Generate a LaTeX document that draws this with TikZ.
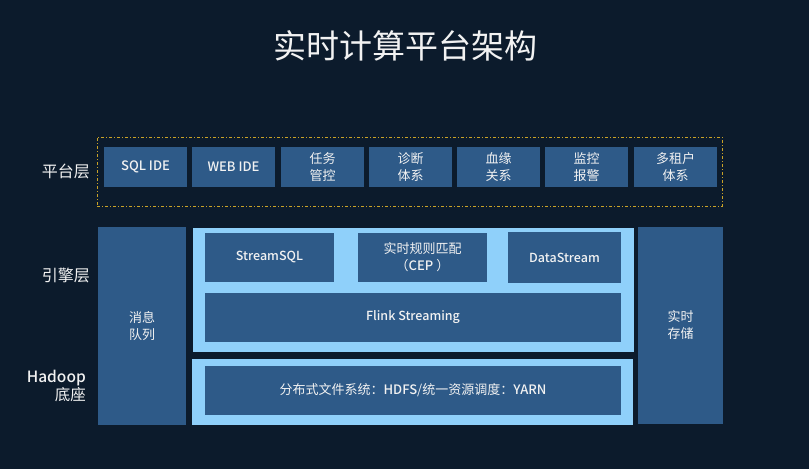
\documentclass[tikz,border=0pt]{standalone}
\usepackage{fontspec}
\setmainfont{Noto Sans CJK SC}[BoldFont={Noto Sans CJK SC Medium}]
\newfontfamily\cjk{Noto Sans CJK SC}
\definecolor{bgc}{HTML}{0C1B2C}
\definecolor{boxc}{HTML}{2E5A88}
\definecolor{lightc}{HTML}{8FD0FA}
\definecolor{goldc}{HTML}{C9A227}
\definecolor{txtc}{HTML}{F2F2F2}
\begin{document}
\begin{tikzpicture}[x=1pt,y=-1pt,
  box/.style={fill=boxc, draw=none, text=txtc, align=center, inner sep=0pt,
    font=\fontsize{13}{17}\selectfont},
  lat/.style={font=\fontsize{12.5}{17}\selectfont\bfseries},
  panel/.style={fill=lightc, draw=none, inner sep=0pt},
  lbl/.style={text=txtc, align=right, anchor=east, inner sep=0pt,
    font=\fontsize{16}{18}\selectfont}
]
\useasboundingbox[fill=bgc] (0,0) rectangle (809,469);
\node[text=txtc, font=\fontsize{33}{36}\selectfont] (title) at (405.5,46) {实时计算平台架构};

% platform layer
\node[draw=goldc, line width=0.9pt, dash pattern=on 3pt off 2pt on 1pt off 2pt,
  minimum width=625pt, minimum height=69pt, inner sep=0pt] (plat) at (409.5,171.5) {};
\node[lbl] (lplat) at (90,171) {平台层};
\foreach \n/\cx/\t in {sql/145.5/{\bfseries SQL IDE}, web/233.5/{\bfseries WEB IDE},
  rw/322.5/{任务\\管控}, zd/410.5/{诊断\\体系}, xy/498.5/{血缘\\关系},
  jk/586.5/{监控\\报警}, dz/675.5/{多租户\\体系}}
  \node[box, minimum width=83pt, minimum height=40pt] (\n) at (\cx,167) {\t};

% engine layer
\node[lbl] (leng) at (90,275) {引擎层};
\node[lbl, font=\fontsize{15.5}{18}\selectfont] (lhad) at (86,386) {\bfseries Hadoop\\底座};
\node[box, minimum width=88pt, minimum height=198pt] (mq) at (142,326) {消息\\队列};
\node[box, minimum width=85pt, minimum height=197pt] (rs) at (680.5,325.5) {实时\\存储};
\node[panel, minimum width=441pt, minimum height=124pt] (epanel) at (413.5,290) {};
\node[box, lat, minimum width=129pt, minimum height=49pt] (ssql) at (269.5,257.5) {StreamSQL};
\node[box, minimum width=129pt, minimum height=49pt] (cep) at (422.5,257.5) {实时规则匹配\\（{\bfseries CEP} ）};
\node[box, lat, minimum width=113pt, minimum height=51pt] (ds) at (564.5,257.5) {DataStream};
\node[box, lat, minimum width=416pt, minimum height=49pt] (flink) at (413,317.5) {Flink Streaming};
\node[panel, minimum width=441pt, minimum height=66pt] (hpanel) at (412.5,392) {};
\node[box, minimum width=416pt, minimum height=49pt] (hdfs) at (413,390.5) {分布式文件系统：{\bfseries HDFS}/统一资源调度：{\bfseries YARN}};
\end{tikzpicture}
\end{document}
